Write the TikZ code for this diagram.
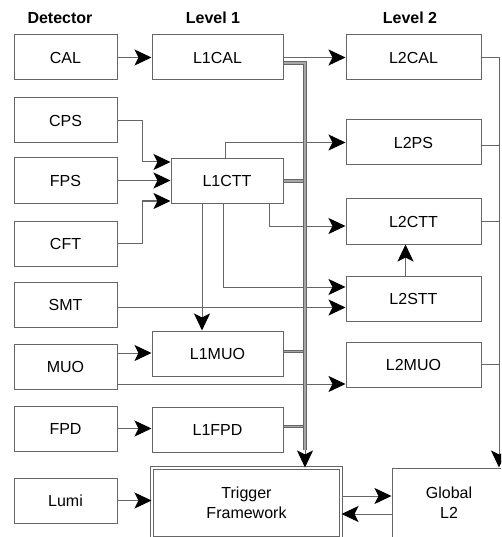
\documentclass[tikz,border=0pt]{standalone}
\usepackage{fontspec}
\setmainfont{Liberation Sans}
\usepackage{tikz}
\usetikzlibrary{arrows.meta}

\begin{document}
\begin{tikzpicture}[x=1pt, y=-1pt, font=\fontsize{16}{20}\selectfont,
  box/.style={draw=black!60, line width=1pt, minimum height=45pt, inner sep=0pt},
  detbox/.style={box, minimum width=103pt},
  lonebox/.style={box, minimum width=131pt},
  ltwobox/.style={box, minimum width=135pt},
  head/.style={font=\fontsize{16}{20}\selectfont\bfseries},
  link/.style={draw=black!60, line width=1pt},
  arr/.style={link, -{Stealth[length=17pt, width=16pt, inset=4pt, color=black]}},
  bus/.style={draw=black!60, line width=0.9pt, double=black!35, double distance=1.4pt}]
\useasboundingbox (0,0) rectangle (501,537);
\clip (0,0) rectangle (501,537);

\node[head] (hdet) at (60,18) {Detector};
\node[head] (hlone) at (213,18) {Level 1};
\node[head] (hltwo) at (410,18) {Level 2};

\node[detbox] (CAL) at (65.5,57.5) {CAL};
\node[detbox] (CPS) at (65.5,120.5) {CPS};
\node[detbox] (FPS) at (65.5,180.5) {FPS};
\node[detbox] (CFT) at (65.5,243.5) {CFT};
\node[detbox] (SMT) at (65.5,304.5) {SMT};
\node[detbox] (MUO) at (65.5,367) {MUO};
\node[detbox] (FPD) at (65.5,428.5) {FPD};
\node[detbox] (Lumi) at (65.5,500.5) {Lumi};

\node[lonebox] (L1CAL) at (217.5,57.5) {L1CAL};
\node[box, minimum width=112pt, minimum height=44pt] (L1CTT) at (227,181) {L1CTT};
\node[lonebox] (L1MUO) at (217.5,353.5) {L1MUO};
\node[lonebox] (L1FPD) at (217.5,429.5) {L1FPD};
\node[box, double, double distance=1.5pt, minimum width=189pt, minimum height=70pt,
      align=center] (tf) at (246.5,503) {Trigger\\Framework};

\node[ltwobox] (L2CAL) at (413.5,57.5) {L2CAL};
\node[ltwobox] (L2PS) at (413.5,142.5) {L2PS};
\node[ltwobox] (L2CTT) at (413.5,221.5) {L2CTT};
\node[ltwobox] (L2STT) at (413.5,298.5) {L2STT};
\node[ltwobox] (L2MUO) at (413.5,364.5) {L2MUO};
\node[box, minimum width=114pt, minimum height=70pt, align=center] (gl2) at (449,503) {Global\\L2};

\draw[arr] (CAL) -- (L1CAL);
\draw[arr] (CPS.east) -- ++(25,0) |- ([yshift=19pt]L1CTT.west);
\draw[arr] (FPS.east) -- (FPS.east -| L1CTT.west);
\draw[arr] (CFT.east) -- ++(25,0) |- ([yshift=-20pt]L1CTT.west);
\draw[arr] ([yshift=-3pt]SMT.east) -- ([yshift=-3pt]SMT.east -| L2STT.west);
\draw[arr] ([yshift=14pt]MUO.east) -- ([yshift=14pt]MUO.east -| L1MUO.west);
\draw[arr] ([yshift=-17pt]MUO.east) -- ([yshift=-17pt]MUO.east -| L2MUO.west);
\draw[arr] (FPD.east) -- (FPD.east -| L1FPD.west);
\draw[arr] (Lumi.east) -- (Lumi.east -| tf.west);

\draw[arr] (L1CAL) -- (L2CAL);
\draw[arr] ([xshift=-2pt]L1CTT.north) |- (L2PS.west);
\draw[arr] ([xshift=42pt]L1CTT.south) |- ([yshift=-4.5pt]L2CTT.west);
\draw[arr] ([xshift=-4pt]L1CTT.south) |- ([yshift=11.5pt]L2STT.west);
\draw[arr] ([xshift=-25pt]L1CTT.south) -- ([xshift=-25pt]L1CTT.south |- L1MUO.north);
\draw[arr] ([xshift=-8pt]L2STT.north) -- ([xshift=-8pt]L2STT.north |- L2CTT.south);

\coordinate (bonetop) at (305,63);
\coordinate (boneend) at (305,450);
\draw[bus] (L1CTT.east) -- (L1CTT.east -| bonetop);
\draw[bus] ([yshift=2pt]L1MUO.east) -- ([yshift=2pt]L1MUO.east -| bonetop);
\draw[bus] ([yshift=3pt]L1FPD.east) -- ([yshift=3pt]L1FPD.east -| bonetop);
\draw[bus] (bonetop -| L1CAL.east) -- (bonetop) -- (boneend);
\draw[arr] (boneend) -- (boneend |- tf.north);

\coordinate (btwotop) at (499,57.5);
\draw[link] ([yshift=-3.5pt]L2PS.east) -- ([yshift=-3.5pt]L2PS.east -| btwotop);
\draw[link] (L2CTT.east) -- (L2CTT.east -| btwotop);
\draw[link] (L2MUO.east) -- (L2MUO.east -| btwotop);
\draw[arr] (L2CAL.east) -- (btwotop) -- (btwotop |- gl2.north);

\draw[arr] ([yshift=7pt]tf.east) -- ([yshift=7pt]tf.east -| gl2.west);
\draw[arr] ([yshift=-11pt]gl2.west) -- ([yshift=-11pt]gl2.west -| tf.east);
\end{tikzpicture}
\end{document}
